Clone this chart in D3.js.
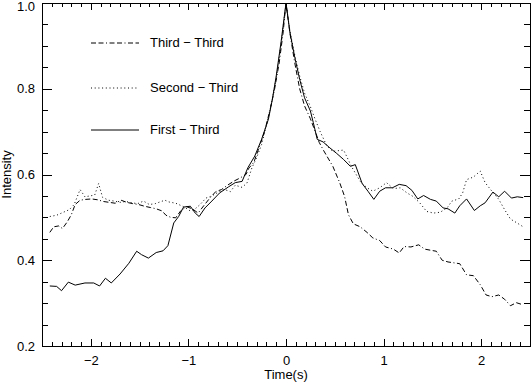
<!DOCTYPE html>
<meta charset="utf-8">
<style>
body {
    margin: 0;
    background: #fff;
}
svg text {
    font: 13px "Liberation Sans", Arial, sans-serif;
    fill: #000;
}
.axis path {
    display: none;
}
.axis line {
    stroke: #000;
    shape-rendering: crispEdges;
}
.frame {
    fill: none;
    stroke: #000;
    shape-rendering: crispEdges;
}
.curve {
    fill: none;
    stroke: #000;
    stroke-width: 1px;
}
</style>
<body>
<div id="chart"></div>
<script src="https://d3js.org/d3.v7.min.js"></script>
<script>
// First - Third (solid)
var firstT = [-2.42, -2.35, -2.30, -2.23, -2.16, -2.06, -1.97, -1.91, -1.85, -1.79, -1.70, -1.61, -1.53, -1.48, -1.41, -1.33, -1.26, -1.21, -1.15, -1.10, -1.05, -0.98, -0.93, -0.89, -0.83, -0.76, -0.68, -0.59, -0.52, -0.45, -0.39, -0.32, -0.25, -0.18, -0.14, -0.10, -0.05, 0.00,
    0.04, 0.09, 0.14, 0.19, 0.25, 0.28, 0.32, 0.38, 0.45, 0.52, 0.59, 0.66, 0.71, 0.78, 0.84, 0.90, 0.96, 1.02, 1.09, 1.16, 1.23, 1.29, 1.35, 1.41, 1.48, 1.54, 1.61, 1.66, 1.73, 1.78, 1.85, 1.93, 1.99, 2.04, 2.12, 2.18, 2.24, 2.31, 2.37, 2.43];
var firstV = [0.340, 0.339, 0.329, 0.349, 0.342, 0.347, 0.347, 0.340, 0.358, 0.347, 0.368, 0.393, 0.421, 0.413, 0.405, 0.418, 0.422, 0.434, 0.487, 0.502, 0.524, 0.526, 0.510, 0.502, 0.522, 0.538, 0.557, 0.571, 0.581, 0.584, 0.616, 0.643, 0.682, 0.729, 0.775, 0.830, 0.910, 1.000,
    0.932, 0.873, 0.822, 0.779, 0.748, 0.721, 0.682, 0.676, 0.662, 0.649, 0.635, 0.619, 0.623, 0.579, 0.561, 0.542, 0.561, 0.569, 0.569, 0.577, 0.574, 0.563, 0.543, 0.551, 0.542, 0.538, 0.522, 0.520, 0.510, 0.527, 0.543, 0.516, 0.527, 0.534, 0.559, 0.548, 0.561, 0.545, 0.548, 0.546];

// Second - Third (dotted)
var secondT = [-2.42, -2.35, -2.28, -2.22, -2.17, -2.11, -2.06, -2.01, -1.96, -1.92, -1.88, -1.82, -1.76, -1.70, -1.64, -1.58, -1.52, -1.46, -1.40, -1.34, -1.28, -1.24, -1.20, -1.13, -1.05, -0.98, -0.93, -0.88, -0.82, -0.76, -0.70, -0.63, -0.57, -0.52, -0.45, -0.40, -0.35, -0.30, -0.25, -0.20, -0.15, -0.10, -0.05, 0.00,
    0.04, 0.09, 0.14, 0.19, 0.25, 0.30, 0.35, 0.42, 0.48, 0.59, 0.62, 0.67, 0.76, 0.83, 0.89, 0.96, 1.03, 1.10, 1.17, 1.24, 1.30, 1.37, 1.44, 1.51, 1.58, 1.65, 1.70, 1.77, 1.81, 1.85, 1.92, 1.99, 2.04, 2.11, 2.18, 2.24, 2.30, 2.36, 2.43];
var secondV = [0.502, 0.505, 0.512, 0.518, 0.530, 0.565, 0.548, 0.550, 0.552, 0.579, 0.547, 0.540, 0.538, 0.535, 0.537, 0.534, 0.532, 0.538, 0.530, 0.532, 0.537, 0.540, 0.536, 0.533, 0.525, 0.515, 0.520, 0.530, 0.545, 0.550, 0.558, 0.565, 0.560, 0.575, 0.570, 0.580, 0.615, 0.640, 0.670, 0.715, 0.765, 0.825, 0.905, 1.000,
    0.935, 0.878, 0.830, 0.790, 0.758, 0.728, 0.700, 0.666, 0.654, 0.657, 0.643, 0.619, 0.584, 0.569, 0.561, 0.569, 0.581, 0.567, 0.569, 0.557, 0.549, 0.534, 0.514, 0.510, 0.512, 0.522, 0.538, 0.543, 0.557, 0.588, 0.594, 0.608, 0.581, 0.561, 0.542, 0.518, 0.496, 0.488, 0.478];

// Third - Third (dash-dot)
var thirdT = [-2.42, -2.38, -2.33, -2.29, -2.24, -2.20, -2.16, -2.11, -2.05, -1.99, -1.93, -1.87, -1.81, -1.75, -1.69, -1.63, -1.57, -1.51, -1.45, -1.39, -1.33, -1.27, -1.23, -1.18, -1.13, -1.08, -1.02, -0.96, -0.90, -0.84, -0.78, -0.72, -0.66, -0.60, -0.53, -0.47, -0.41, -0.38, -0.33, -0.28, -0.22, -0.17, -0.12, -0.07, -0.03, 0.00,
    0.04, 0.09, 0.14, 0.19, 0.25, 0.30, 0.34, 0.38, 0.48, 0.55, 0.60, 0.64, 0.69, 0.76, 0.83, 0.89, 0.96, 1.02, 1.10, 1.16, 1.21, 1.28, 1.36, 1.42, 1.49, 1.54, 1.60, 1.66, 1.78, 1.85, 1.92, 1.99, 2.05, 2.11, 2.18, 2.24, 2.30, 2.36, 2.43];
var thirdV = [0.465, 0.478, 0.480, 0.474, 0.490, 0.506, 0.530, 0.540, 0.542, 0.543, 0.541, 0.537, 0.535, 0.533, 0.540, 0.535, 0.532, 0.530, 0.526, 0.523, 0.520, 0.515, 0.505, 0.500, 0.499, 0.515, 0.525, 0.520, 0.510, 0.528, 0.545, 0.560, 0.565, 0.575, 0.585, 0.592, 0.600, 0.615, 0.628, 0.660, 0.700, 0.745, 0.795, 0.860, 0.930, 1.000,
    0.930, 0.860, 0.800, 0.760, 0.730, 0.700, 0.675, 0.658, 0.619, 0.581, 0.549, 0.506, 0.485, 0.478, 0.465, 0.452, 0.446, 0.431, 0.426, 0.417, 0.432, 0.431, 0.436, 0.426, 0.423, 0.421, 0.400, 0.396, 0.392, 0.366, 0.364, 0.343, 0.319, 0.315, 0.319, 0.309, 0.294, 0.301, 0.296];

var seriesNames = ["Third  \u2212  Third", "Second  \u2212  Third", "First  \u2212  Third"];
var xMajor = [-2, -1, 0, 1, 2];
var yMajor = [0.2, 0.4, 0.6, 0.8, 1.0];

var margin = { top: 3, right: 1, bottom: 36, left: 42 },
    width = 531 - margin.left - margin.right,
    height = 382 - margin.top - margin.bottom;

var x = d3.scaleLinear().domain([-2.5, 2.5]).range([0, width]);
var y = d3.scaleLinear().domain([0.2, 1.0]).range([height, 0]);

var svg = d3.select("#chart").append("svg")
    .attr("width", 531)
    .attr("height", 382)
    .append("g")
    .attr("transform", "translate(" + margin.left + "," + margin.top + ")");

var xMinor = d3.range(-25, 26).map(function(d) { return d / 10; });
var yMinor = d3.range(4, 21).map(function(d) { return d / 20; });

// minor ticks on all four sides
svg.append("g").attr("class", "axis").attr("transform", "translate(0," + height + ")")
    .call(d3.axisBottom(x).tickValues(xMinor).tickSize(-4).tickFormat(""));
svg.append("g").attr("class", "axis")
    .call(d3.axisTop(x).tickValues(xMinor).tickSize(-4).tickFormat(""));
svg.append("g").attr("class", "axis")
    .call(d3.axisLeft(y).tickValues(yMinor).tickSize(-6).tickFormat(""));
svg.append("g").attr("class", "axis").attr("transform", "translate(" + width + ",0)")
    .call(d3.axisRight(y).tickValues(yMinor).tickSize(-6).tickFormat(""));

// major ticks + labels
svg.append("g").attr("class", "axis").attr("transform", "translate(0," + height + ")")
    .call(d3.axisBottom(x).tickValues(xMajor).tickSize(-7).tickPadding(10).tickFormat(d3.format("d")));
svg.append("g").attr("class", "axis")
    .call(d3.axisTop(x).tickValues(xMajor).tickSize(-7).tickFormat(""));
var yAxisG = svg.append("g").attr("class", "axis")
    .call(d3.axisLeft(y).tickValues(yMajor).tickSize(-10).tickPadding(7).tickFormat(d3.format(".1f")));
svg.append("g").attr("class", "axis").attr("transform", "translate(" + width + ",0)")
    .call(d3.axisRight(y).tickValues(yMajor).tickSize(-10).tickFormat(""));

svg.selectAll(".axis text").style("font-size", "13px").attr("fill", "#000");
// keep the top label inside the window
yAxisG.selectAll(".tick text").filter(function(d) { return d === 1.0; }).attr("dy", "0.55em");

svg.append("rect").attr("class", "frame")
    .attr("x", 0).attr("y", 0).attr("width", width).attr("height", height);

var line = d3.line()
    .x(function(d) { return x(d[0]); })
    .y(function(d) { return y(d[1]); });

var dashes = ["5,2.5,5,2.5,1,2.5", "1,2.7", null];
var curves = [d3.zip(thirdT, thirdV), d3.zip(secondT, secondV), d3.zip(firstT, firstV)];

curves.forEach(function(c, i) {
    svg.append("path")
        .datum(c)
        .attr("class", "curve")
        .attr("stroke-dasharray", dashes[i])
        .attr("d", line);
});

// legend
var legendY = [40, 85, 127];
seriesNames.forEach(function(name, i) {
    svg.append("line")
        .attr("x1", 49).attr("x2", 97)
        .attr("y1", legendY[i]).attr("y2", legendY[i])
        .attr("stroke", "#000")
        .attr("stroke-dasharray", dashes[i]);
    svg.append("text")
        .attr("x", 108).attr("y", legendY[i] + 4)
        .text(name);
});

svg.append("text")
    .attr("x", width / 2).attr("y", height + 33)
    .attr("text-anchor", "middle")
    .text("Time(s)");

svg.append("text")
    .attr("transform", "translate(" + (-31) + "," + (height / 2) + ") rotate(-90)")
    .attr("text-anchor", "middle")
    .text("Intensity");
</script>
</body>
